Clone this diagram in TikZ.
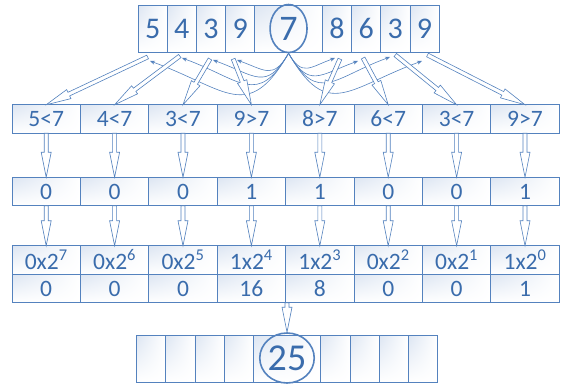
\documentclass[tikz,border=0pt]{standalone}
\usepackage{fontspec}
\setmainfont{Carlito}
\usetikzlibrary{arrows.meta,calc,positioning,shapes.geometric,shadings}
\definecolor{linec}{RGB}{84,130,190}
\definecolor{textc}{RGB}{58,108,172}
\definecolor{celltint}{RGB}{220,229,242}
\tikzset{
  cell/.style={draw=linec,line width=0.7pt,inner sep=0pt,outer sep=0pt,
    upper left=celltint,upper right=white,lower left=white,lower right=white,
    text=textc,font=\fontsize{23.5}{26}\selectfont},
  topc/.style={minimum width=29.2pt,minimum height=47pt,font=\fontsize{30}{32}\selectfont},
  rowc/.style={minimum width=68.4pt,minimum height=28.5pt},
  ring/.style={ellipse,draw=linec,line width=1.6pt,inner sep=0pt,text=textc},
  harrow/.style={draw=linec,fill=white,line width=0.6pt,
    to path={let \p1=(\tikztostart),\p2=(\tikztotarget),
      \n1={atan2(\y2-\y1,\x2-\x1)} in
      ($(\p1)+(\n1+90:2pt)$) -- ($(\p2)+(\n1+180:25pt)+(\n1+90:2pt)$)
      -- ($(\p2)+(\n1+180:25pt)+(\n1+90:5pt)$) -- (\p2)
      -- ($(\p2)+(\n1+180:25pt)+(\n1-90:5pt)$)
      -- ($(\p2)+(\n1+180:25pt)+(\n1-90:2pt)$)
      -- ($(\p1)+(\n1-90:2pt)$) -- cycle}},
  carrow/.style={draw=linec,line width=0.6pt,-{Stealth[length=5pt,width=4pt]}}
}

\begin{document}
\begin{tikzpicture}[x=1pt,y=-1pt]
  \useasboundingbox (0,0) rectangle (564,383);

  % input row with the pivot
  \foreach \d [count=\i] in {5,4,3,9}
    \node[cell,topc] (t\i) at ({138+29.2*(\i-0.5)},28.5) {\d};
  \node[cell,minimum width=67.5pt,minimum height=47pt] (tp) at (288.55,28.5) {};
  \foreach \d [count=\i from 6] in {8,6,3,9}
    \node[cell,topc] (t\i) at ({322.3+29.2*(\i-5.5)},28.5) {\d};
  \node[ring,minimum width=37pt,minimum height=48pt,font=\fontsize{36}{36}\selectfont]
    (e7) at (tp.center) {7};

  % comparisons, bits, weights, values
  \foreach \t [count=\i] in {5<7,4<7,3<7,9>7,8>7,6<7,3<7,9>7}
    \node[cell,rowc] (c\i) at ({12+68.4*(\i-0.5)},119) {\t};
  \foreach \t [count=\i] in {0,0,0,1,1,0,0,1}
    \node[cell,rowc] (b\i) at ({12+68.4*(\i-0.5)},191.5) {\t};
  \foreach \t/\e [count=\i] in {0/7,0/6,0/5,1/4,1/3,0/2,0/1,1/0}
    \node[cell,rowc] (w\i) at ({12+68.4*(\i-0.5)},260) {\t x2\textsuperscript{\e}};
  \foreach \t [count=\i] in {0,0,0,16,8,0,0,1}
    \node[cell,rowc] (v\i) at ({12+68.4*(\i-0.5)},288.5) {\t};

  % output row
  \foreach \i in {1,...,4}
    \node[cell,topc] (o\i) at ({136.5+29.2*(\i-0.5)},358.75) {};
  \node[cell,minimum width=67.5pt,minimum height=47.5pt] (op) at (287.05,358.75) {};
  \foreach \i in {6,...,9}
    \node[cell,topc,minimum height=47.5pt] (o\i) at ({320.8+29.2*(\i-5.5)},358.75) {};
  \node[ring,minimum width=53pt,minimum height=50pt,font=\fontsize{38}{38}\selectfont]
    (res) at (287,358) {25};

  % pivot compared with every digit
  \foreach \x/\y [count=\i] in {150/61,182/58,213/60,237/60} {
    \coordinate (kl\i) at (\x,\y);
    \draw[carrow] (e7.south) to[out=-120,in=-20,looseness=1.5] (kl\i);
  }
  \foreach \x/\y [count=\i] in {335/58,358/61,390/57,422/61} {
    \coordinate (kr\i) at (\x,\y);
    \draw[carrow] (e7.south) to[out=-60,in=-160,looseness=1.5] (kr\i);
  }

  \foreach \i/\j/\dx/\dy in {1/1/-5/5,2/2/-2/4,3/3/-1/7,4/4/-7/7,6/5/3/7,7/6/-3/6,8/7/0/3,9/8/3/3}
    \draw[harrow] ($(t\i.south)+(\dx,\dy)$) to (c\j.north);
  \foreach \i in {1,...,8} {
    \draw[harrow] (c\i.south) to (b\i.north);
    \draw[harrow] (b\i.south) to (w\i.north);
  }
  \draw[harrow] (res.north |- v4.south) to (res.north);
\end{tikzpicture}
\end{document}
